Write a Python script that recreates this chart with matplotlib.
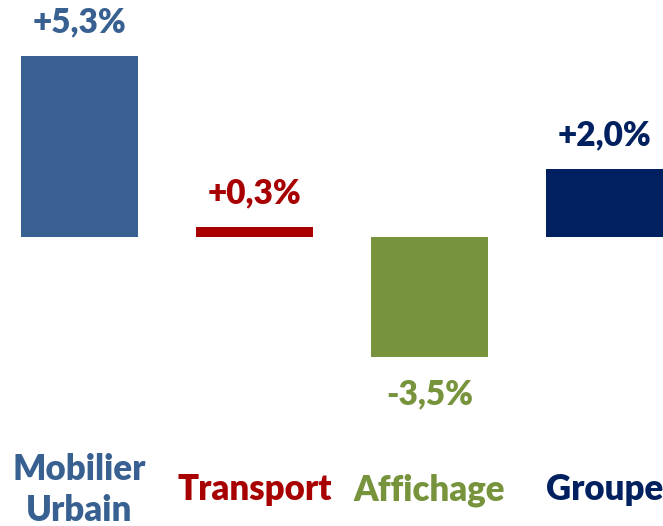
import matplotlib.pyplot as plt
import matplotlib.transforms as mtransforms

categories = ['Mobilier\nUrbain', 'Transport', 'Affichage', 'Groupe']
values = [5.3, 0.3, -3.5, 2.0]
value_labels = ['+5,3%', '+0,3%', '-3,5%', '+2,0%']
colors = ['#386192', '#A80000', '#77933C', '#002060']

plt.rcParams['font.family'] = ['Lato', 'DejaVu Sans']

fig = plt.figure(figsize=(6.63, 5.26), dpi=100)
ax = fig.add_axes([0, 0, 1, 1])
x = list(range(len(values)))
ax.bar(x, values, width=0.667, color=colors)
ax.set_xlim(-0.454, 3.334)
ax.set_ylim(-8.46, 6.94)
ax.axis('off')

for xi, v, lab, c in zip(x, values, value_labels, colors):
    off = 24 if v >= 0 else -27
    ax.annotate(lab, (xi, v), xytext=(0, off), textcoords='offset points',
                ha='center', va='center', fontsize=24, fontweight='heavy', color=c)

trans = mtransforms.blended_transform_factory(ax.transData, fig.transFigure)
for xi, cat, c in zip(x, categories, colors):
    ax.text(xi, 1 - 490 / 526, cat, transform=trans, ha='center', va='center',
            fontsize=25, fontweight='heavy', color=c, linespacing=1.3)

fig.savefig('out.png', dpi=100)
